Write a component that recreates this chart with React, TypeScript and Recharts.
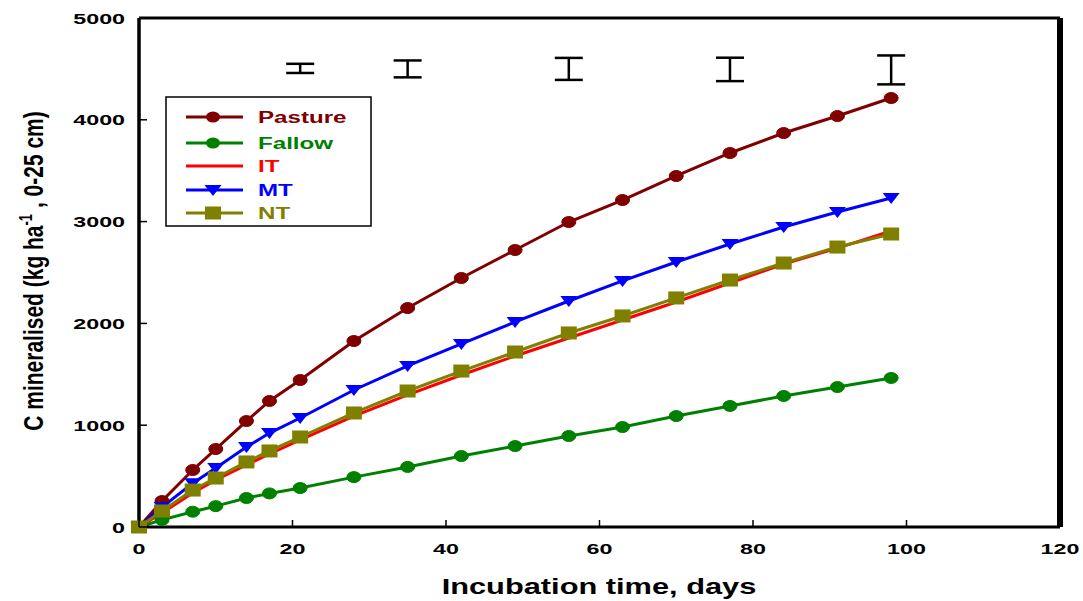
import React from 'react';
import { ComposedChart, Line, Scatter, ErrorBar, XAxis, YAxis, ReferenceLine, Legend } from 'recharts';

const days = [0, 3, 7, 10, 14, 17, 21, 28, 35, 42, 49, 56, 63, 70, 77, 84, 91, 98];
const pasture = [0, 255, 560, 766, 1041, 1238, 1444, 1827, 2151, 2446, 2721, 2996, 3212, 3448, 3674, 3870, 4037, 4214];
const fallow = [0, 70, 150, 205, 285, 330, 383, 490, 590, 697, 795, 894, 982, 1090, 1189, 1287, 1375, 1464];
const itSeries = [0, 138, 334, 462, 609, 717, 855, 1090, 1297, 1493, 1680, 1857, 2033, 2210, 2397, 2583, 2740, 2908];
const mt = [0, 196, 430, 580, 786, 923, 1071, 1346, 1582, 1798, 2014, 2220, 2417, 2603, 2780, 2947, 3094, 3232];
const nt = [0, 157, 363, 481, 639, 747, 884, 1120, 1336, 1532, 1719, 1906, 2073, 2250, 2426, 2593, 2750, 2878];

const errDays = [21, 35, 56, 77, 98];
const errCenters = [4505, 4500, 4500, 4495, 4490];
const errHalf = [45, 83, 108, 115, 142];

const xTicks = [0, 20, 40, 60, 80, 100, 120];
const yTicks = [0, 1000, 2000, 3000, 4000, 5000];

const COLORS = { pasture: '#800000', fallow: '#008000', it: '#FF0000', mt: '#0000FF', nt: '#808000' };

const data = days.map((d, i) => ({ day: d, pasture: pasture[i], fallow: fallow[i], it: itSeries[i], mt: mt[i], nt: nt[i] }));
const errData = errDays.map((d, i) => ({ day: d, y: errCenters[i], err: errHalf[i] }));

const FONT = '"Liberation Sans", Arial, sans-serif';
const SX = 1.5;

const ellipseDot = (color: string) => (props: any) => {
  const { cx, cy, index } = props;
  if (cx == null || cy == null) return <g key={`e${index}`} />;
  return <ellipse key={`e${index}`} cx={cx} cy={cy} rx={7} ry={5.5} fill={color} stroke={color} />;
};
const squareDot = (color: string) => (props: any) => {
  const { cx, cy, index } = props;
  if (cx == null || cy == null) return <g key={`s${index}`} />;
  return <rect key={`s${index}`} x={cx - 8} y={cy - 6.5} width={16} height={13} fill={color} />;
};
const triDot = (color: string) => (props: any) => {
  const { cx, cy, index } = props;
  if (cx == null || cy == null) return <g key={`t${index}`} />;
  return <polygon key={`t${index}`} points={`${cx - 8.5},${cy - 5} ${cx + 8.5},${cy - 5} ${cx},${cy + 6}`} fill={color} />;
};

const XTick = (props: any) => {
  const { x, y, payload } = props;
  return (
    <g>
      <line x1={x} x2={x} y1={y} y2={y - 7} stroke="#000" strokeWidth={1.5} />
      <text transform={`translate(${x},${y + 27}) scale(${SX},1)`} textAnchor="middle" fontFamily={FONT} fontWeight="bold" fontSize={15.5} fill="#000">
        {payload.value}
      </text>
    </g>
  );
};

const YTick = (props: any) => {
  const { x, y, payload } = props;
  return (
    <g>
      <line x1={x} x2={x + 8} y1={y} y2={y} stroke="#000" strokeWidth={1.5} />
      <text transform={`translate(${x - 14},${y + 5.5}) scale(${SX},1)`} textAnchor="end" fontFamily={FONT} fontWeight="bold" fontSize={15.5} fill="#000">
        {payload.value}
      </text>
    </g>
  );
};

const XTitle = () => (
  <text transform={`translate(599,594) scale(1.4,1)`} textAnchor="middle" fontFamily={FONT} fontWeight="bold" fontSize={22} fill="#000">
    Incubation time, days
  </text>
);

const YTitle = () => (
  <text transform={`translate(43,271) scale(1.35,1) rotate(-90)`} textAnchor="middle" fontFamily={FONT} fontWeight="bold" fontSize={21} fill="#000">
    <tspan>C mineralised (kg ha</tspan>
    <tspan dy={-8} fontSize={13}>-1</tspan>
    <tspan dy={8}> , 0-25 cm)</tspan>
  </text>
);

const legendItems = [
  { name: 'Pasture', color: COLORS.pasture, marker: 'circle' },
  { name: 'Fallow', color: COLORS.fallow, marker: 'circle' },
  { name: 'IT', color: COLORS.it, marker: 'none' },
  { name: 'MT', color: COLORS.mt, marker: 'tri' },
  { name: 'NT', color: COLORS.nt, marker: 'square' },
];
const legendRows = [21, 47, 70, 94, 117];

const LegendBox = () => (
  <svg width={208} height={132} style={{ display: 'block' }}>
    <rect x={1} y={1} width={205} height={129} fill="#fff" stroke="#000" strokeWidth={1.5} />
    {legendItems.map((it, i) => {
      const y = legendRows[i];
      return (
        <g key={it.name}>
          <line x1={21} x2={78} y1={y} y2={y} stroke={it.color} strokeWidth={3} />
          {it.marker === 'circle' && <ellipse cx={48} cy={y} rx={7} ry={5.5} fill={it.color} />}
          {it.marker === 'square' && <rect x={40} y={y - 6.5} width={16} height={13} fill={it.color} />}
          {it.marker === 'tri' && <polygon points={`${39.5},${y - 5} ${56.5},${y - 5} ${48},${y + 6}`} fill={it.color} />}
          <text transform={`translate(93,${y + 6}) scale(1.42,1)`} fontFamily={FONT} fontWeight="bold" fontSize={17} fill={it.color}>
            {it.name}
          </text>
        </g>
      );
    })}
  </svg>
);

export default function App() {
  return (
    <div style={{ position: 'absolute', left: 0, top: 0, width: 1083, height: 601, background: '#fff' }}>
      <ComposedChart width={1083} height={601} data={data} margin={{ top: 18, right: 23, bottom: 44, left: 79 }}>
        <XAxis
          type="number"
          dataKey="day"
          domain={[0, 120]}
          ticks={xTicks}
          interval={0}
          height={30}
          tickSize={0}
          tickMargin={0}
          tickLine={false}
          tick={<XTick />}
          axisLine={{ stroke: '#000', strokeWidth: 3 }}
          label={XTitle}
        />
        <YAxis
          type="number"
          domain={[0, 5000]}
          ticks={yTicks}
          interval={0}
          width={60}
          tickSize={0}
          tickMargin={0}
          tickLine={false}
          tick={<YTick />}
          axisLine={{ stroke: '#000', strokeWidth: 3.5 }}
          label={YTitle}
        />
        <ReferenceLine y={5000} stroke="#000" strokeWidth={3} />
        <ReferenceLine x={120} stroke="#000" strokeWidth={6} />
        <Legend layout="vertical" align="center" verticalAlign="middle" content={() => <LegendBox />} wrapperStyle={{ position: 'absolute', left: 165, top: 96, width: 208, height: 132 }} />
        <Line dataKey="pasture" stroke={COLORS.pasture} strokeWidth={3} dot={ellipseDot(COLORS.pasture)} isAnimationActive={false} />
        <Line dataKey="fallow" stroke={COLORS.fallow} strokeWidth={3} dot={ellipseDot(COLORS.fallow)} isAnimationActive={false} />
        <Line dataKey="it" stroke={COLORS.it} strokeWidth={3} dot={false} isAnimationActive={false} />
        <Line dataKey="mt" stroke={COLORS.mt} strokeWidth={3} dot={triDot(COLORS.mt)} isAnimationActive={false} />
        <Line dataKey="nt" stroke={COLORS.nt} strokeWidth={3} dot={squareDot(COLORS.nt)} isAnimationActive={false} />
        <Scatter data={errData} dataKey="y" shape={() => <g />} isAnimationActive={false}>
          <ErrorBar dataKey="err" direction="y" width={14} stroke="#000" strokeWidth={2.5} isAnimationActive={false} />
        </Scatter>
      </ComposedChart>
    </div>
  );
}
